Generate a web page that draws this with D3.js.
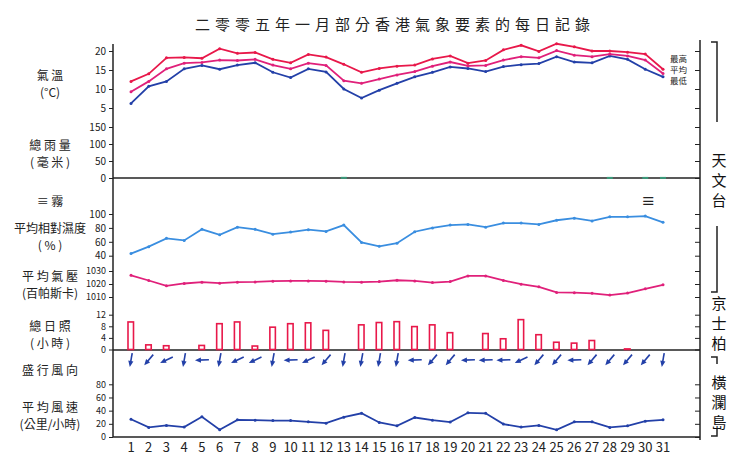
<!DOCTYPE html>
<html><head><meta charset="utf-8">
<script src="https://cdn.jsdelivr.net/npm/d3@7"></script>
<style>body{margin:0;background:#fff}text{font-family:"Noto Sans CJK TC","Noto Sans",sans-serif}</style>
</head><body><svg id="c" width="733" height="465"></svg>
<script>
const days = d3.range(1,32);
const tMax = [12,14,18.2,18.3,18.1,20.6,19.4,19.6,17.8,16.9,19.1,18.4,16.5,14.4,15.4,16.0,16.3,17.9,18.7,16.8,17.5,20.3,21.5,19.9,21.9,21.1,20,20,19.7,19.2,15.2];
const tMean = [9.3,12,15.3,16.8,17,17.6,17.5,17.8,16.3,15.3,16.8,16.2,12.2,11.5,12.6,13.7,14.6,16.0,17.1,16.1,16.2,17.6,18.5,18.2,20.1,18.9,18.5,19.2,18.7,17.6,14.1];
const tMin = [6.2,10.7,12,15.3,16.2,15.2,16.3,16.9,14.4,13,15.3,14.5,10,7.6,9.7,11.5,13.2,14.4,15.8,15.4,14.6,15.9,16.4,16.7,18.5,17.1,16.9,18.7,17.8,15.2,13.2];
const rain = [0,0,0,0,0,0,0,0,0,0,0,0,0.5,0,0,0,0,0,0,0,0,0,0,0,0,0,0,0.3,0,0.3,0.3];
const humidity = [43,53,65,62,78,70,81,78,71,74,77.5,75,84,59,53.5,58,74.5,80,84,85,81,87,87,85,91,94,90,96,96,97,88];
const pressure = [1026.7,1022.7,1018.6,1020.4,1021.4,1020.6,1021.4,1021.6,1022.2,1022.4,1022.4,1022.2,1021.6,1021.4,1021.9,1022.9,1022.4,1021.1,1021.9,1026.2,1026.2,1022.7,1019.9,1017.8,1013.5,1013.3,1012.8,1011.5,1013,1016.3,1019.4];
const sunshine = [9.5,1.6,1.3,0,1.4,8.9,9.5,1.2,7.7,8.9,9.2,6.6,0,8.5,9.3,9.6,7.9,8.5,5.8,0,5.5,3.7,10.3,5.1,2.5,2.2,3.1,0,0.2,0,0];
const windDir = ["N","NE","ENE","N","E","N","ENE","ENE","N","E","ENE","NE","N","N","N","N","E","NE","NE","E","E","E","ENE","NE","NE","E","NE","NE","NE","NE","N"];
const windSpeed = [27,14.6,17.6,15,30.7,11,26,25.6,25,25,23,21,30,36,22,17,29.6,25.6,22.6,36.7,36,19.6,15,17.6,11,23,23,14.6,17,24,26];
const fogDays = [30];
const tempTicks=[5,10,15,20], rainTicks=[0,50,100,150], humTicks=[40,60,80,100], presTicks=[1010,1020,1030], sunTicks=[0,4,8,12], windTicks=[0,20,40,60,80];

const svg=d3.select("#c");
const x=d3.scaleLinear().domain([1,31]).range([131,663]);
const yT=d3.scaleLinear().domain([5,20]).range([108,51]);
const yR=d3.scaleLinear().domain([0,150]).range([178,127]);
const yH=d3.scaleLinear().domain([40,100]).range([255.7,214]);
const yP=d3.scaleLinear().domain([1010,1030]).range([297,271]);
const yS=d3.scaleLinear().domain([0,12]).range([349.5,314.7]);
const yW=d3.scaleLinear().domain([0,80]).range([437,384.3]);
const RED="#e8184a", PINK="#e0207a", BLUE="#2340a8", LBLUE="#3a8ee0";

svg.append("text").attr("x",395).attr("y",30).attr("text-anchor","middle").attr("font-size",15).attr("letter-spacing",5).attr("fill","#222").text("二零零五年一月部分香港氣象要素的每日記錄");

function axis(scale,ticks,fs){
  const g=svg.append("g").attr("transform","translate(113,0)")
    .call(d3.axisLeft(scale).tickValues(ticks).tickSize(4).tickFormat(d3.format("d")));
  g.select(".domain").remove();
  g.selectAll("text").attr("font-size",fs||10).attr("fill","#222").attr("font-family","Liberation Sans Narrow, Liberation Sans, sans-serif");
  g.selectAll("line").attr("stroke","#222");
  const r=svg.append("g").attr("transform","translate(700,0)").call(d3.axisLeft(scale).tickValues(ticks).tickSize(5).tickFormat(""));
  r.select(".domain").remove(); r.selectAll("line").attr("stroke","#222");
}
axis(yT,tempTicks); axis(yR,rainTicks); axis(yH,humTicks); axis(yP,presTicks,9); axis(yS,sunTicks,9); axis(yW,windTicks,9);

svg.append("line").attr("x1",113).attr("x2",113).attr("y1",44).attr("y2",437).attr("stroke","#222").attr("stroke-width",1.5);
svg.append("line").attr("x1",700).attr("x2",700).attr("y1",40).attr("y2",440).attr("stroke","#222").attr("stroke-width",1.5);
[178,350,437].forEach(v=>svg.append("line").attr("x1",113).attr("x2",700).attr("y1",v).attr("y2",v).attr("stroke","#222").attr("stroke-width",1.5));

function series(data,y,color){
  svg.append("path").datum(data).attr("fill","none").attr("stroke",color).attr("stroke-width",1.8)
    .attr("d",d3.line().x((d,i)=>x(days[i])).y(d=>y(d)));
  svg.append("g").selectAll("circle").data(data).join("circle").attr("cx",(d,i)=>x(days[i])).attr("cy",d=>y(d)).attr("r",1.5).attr("fill",color);
}
series(tMin,yT,BLUE); series(tMean,yT,PINK); series(tMax,yT,RED);
series(humidity,yH,LBLUE); series(pressure,yP,PINK); series(windSpeed,yW,BLUE);

const rainData=rain.map((v,i)=>({d:days[i],v})).filter(o=>o.v>0);
svg.append("g").selectAll("rect").data(rainData).join("rect").attr("x",o=>x(o.d)-3).attr("width",6)
  .attr("y",o=>yR(o.v)-1).attr("height",2).attr("fill","#3a9a7a");

const sunData=sunshine.map((v,i)=>({d:days[i],v})).filter(o=>o.v>0);
svg.append("g").selectAll("rect").data(sunData).join("rect")
  .attr("x",o=>x(o.d)-3).attr("width",5.5).attr("y",o=>yS(o.v)).attr("height",o=>yS(0)-yS(o.v))
  .attr("fill","none").attr("stroke",RED).attr("stroke-width",1.6);

const dirDeg={N:10,NNE:22.5,NE:40,ENE:65,E:88};
const ag=svg.append("g");
windDir.forEach((d,i)=>{
  const a=dirDeg[d]*Math.PI/180, L=14, cx=x(days[i]), cy=360;
  const dx=-Math.sin(a), dy=Math.cos(a);
  const x0=cx-dx*L/2, y0=cy-dy*L/2, x1=cx+dx*L/2, y1=cy+dy*L/2;
  ag.append("line").attr("x1",x0).attr("y1",y0).attr("x2",x1-dx*3).attr("y2",y1-dy*3).attr("stroke",BLUE).attr("stroke-width",1.6);
  const px=-dy, py=dx;
  ag.append("path").attr("d",`M${x1},${y1}L${x1-dx*6+px*2.6},${y1-dy*6+py*2.6}L${x1-dx*6-px*2.6},${y1-dy*6-py*2.6}Z`).attr("fill",BLUE);
});

svg.append("g").selectAll("text").data(fogDays).join("text").attr("x",d=>x(d)-4).attr("y",206).attr("font-size",14).attr("font-weight","bold").attr("fill","#222").text("≡");

svg.append("g").selectAll("text").data(days).join("text").attr("x",d=>x(d)).attr("y",452).attr("text-anchor","middle")
  .attr("font-size",13).attr("fill","#222").attr("font-family","Liberation Sans Narrow, Liberation Sans, sans-serif").text(d=>d);

const labels=[["氣 溫",80],["(°C)",97],["總 雨 量",150],["( 毫 米 )",167],["平均相對濕度",233],["( % )",250],["平 均 氣 壓",281],["(百帕斯卡)",298],["總 日 照",331],["( 小 時 )",348],["盛 行 風 向",375],["平 均 風 速",412],["(公里/小時)",429]];
labels.forEach(([t,y])=>svg.append("text").attr("x",50).attr("y",y).attr("text-anchor","middle").attr("font-size",12).attr("fill","#222").text(t));
svg.append("text").attr("x",50).attr("y",206).attr("text-anchor","middle").attr("font-size",12).attr("fill","#222").text("≡      霧");

[["最高",62],["平均",73],["最低",84]].forEach(([t,y])=>svg.append("text").attr("x",670).attr("y",y).attr("font-size",8.5).attr("fill","#222").text(t));

function vtext(t,x0,y0){t.split("").forEach((c,i)=>svg.append("text").attr("x",x0).attr("y",y0+i*20).attr("text-anchor","middle").attr("font-size",15).attr("fill","#111").text(c));}
vtext("天文台",719,166); vtext("京士柏",719,309); vtext("橫瀾島",719,388);
const br=svg.append("g").attr("stroke","#222").attr("stroke-width",1.5).attr("fill","none");
br.append("path").attr("d","M711,42H717V122");
br.append("path").attr("d","M717,226V292H711");
br.append("path").attr("d","M711,357H717V364");
br.append("path").attr("d","M711,436H717V429");
</script></body></html>
